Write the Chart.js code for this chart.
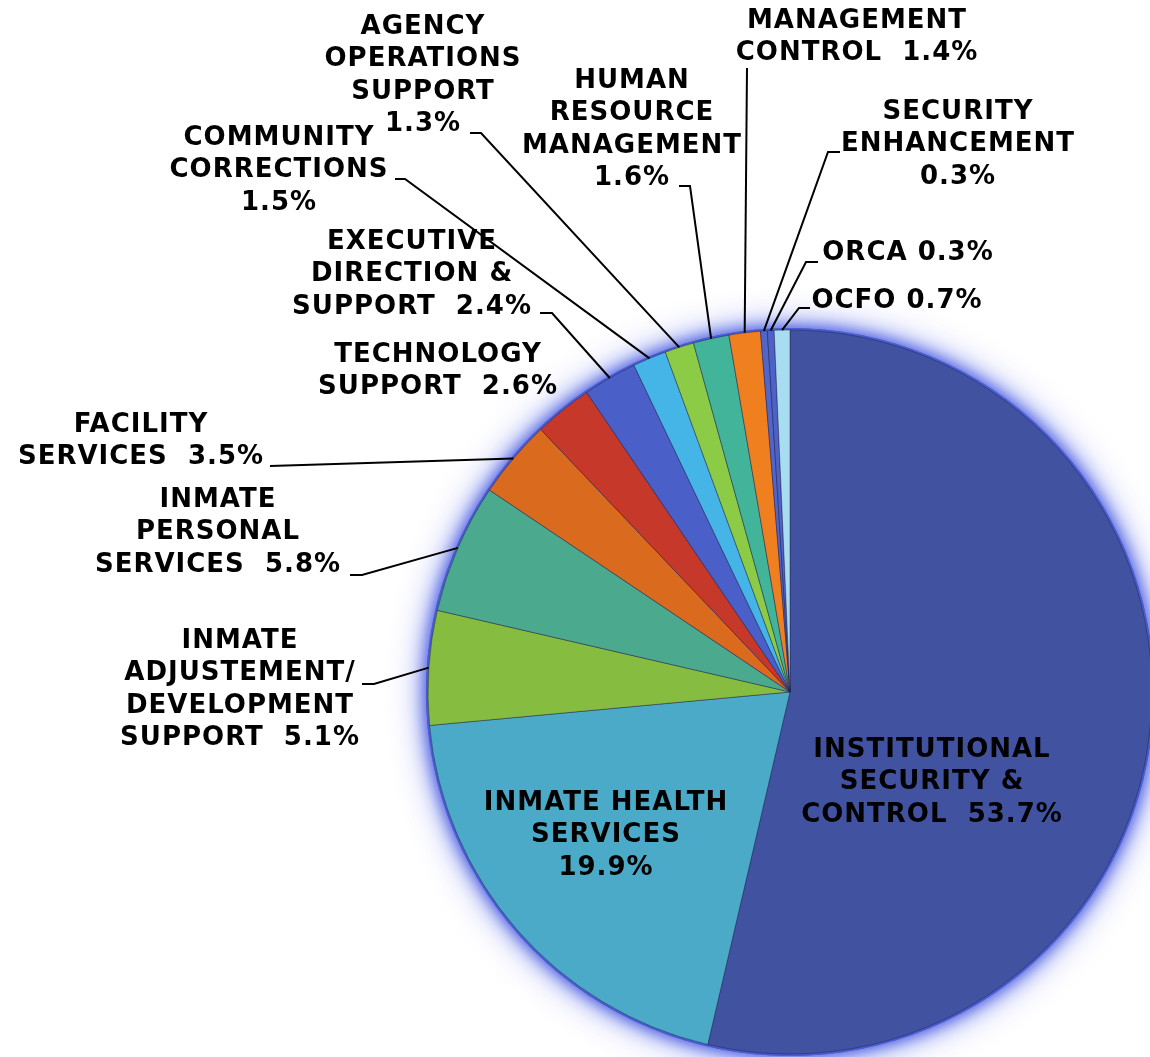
<!DOCTYPE html>
<html>
<head>
<meta charset="utf-8">
<script src="https://cdn.jsdelivr.net/npm/chart.js@4"></script>
<style>
  body { margin: 0; background: #fff; overflow: hidden; }
  #wrap { width: 1150px; height: 1057px; position: relative; }
</style>
</head>
<body>
<div id="wrap"><canvas id="budgetChart"></canvas></div>
<script>
// budget share by program, clockwise from 12 o'clock
const categories = [
  'Institutional Security & Control', 'Inmate Health Services', 'Inmate Adjustement/Development Support',
  'Inmate Personal Services', 'Facility Services', 'Technology Support', 'Executive Direction & Support',
  'Community Corrections', 'Agency Operations Support', 'Human Resource Management',
  'Management Control', 'Security Enhancement', 'ORCA', 'OCFO'
];
const values = [53.7, 19.9, 5.1, 5.8, 3.5, 2.6, 2.4, 1.5, 1.3, 1.6, 1.4, 0.3, 0.3, 0.7];

// label text as printed on the chart, {v} = percentage
const labelLines = [
  ['INSTITUTIONAL', 'SECURITY &', 'CONTROL  {v}'],
  ['INMATE HEALTH', 'SERVICES', '{v}'],
  ['INMATE', 'ADJUSTEMENT/', 'DEVELOPMENT', 'SUPPORT  {v}'],
  ['INMATE', 'PERSONAL', 'SERVICES  {v}'],
  ['FACILITY', 'SERVICES  {v}'],
  ['TECHNOLOGY', 'SUPPORT  {v}'],
  ['EXECUTIVE', 'DIRECTION &', 'SUPPORT  {v}'],
  ['COMMUNITY', 'CORRECTIONS', '{v}'],
  ['AGENCY', 'OPERATIONS', 'SUPPORT', '{v}'],
  ['HUMAN', 'RESOURCE', 'MANAGEMENT', '{v}'],
  ['MANAGEMENT', 'CONTROL  {v}'],
  ['SECURITY', 'ENHANCEMENT', '{v}'],
  ['ORCA {v}'],
  ['OCFO {v}']
];

const sliceColors = [
  '#4152a1', '#4baac8', '#86bc40', '#4baa8e', '#d96a1e', '#c6382a', '#4a5fc8',
  '#45b4e6', '#8ccb45', '#42b49a', '#f07f20', '#5066c8', '#4e62c6', '#a8dcf0'
];

// where each label sits (center x, first line y) and its leader line
const labelPos = [
  { x: 932, y: 750 },
  { x: 606, y: 803 },
  { x: 240, y: 641, hook: [[362, 684], [374, 684]] },
  { x: 218, y: 500, hook: [[350, 575], [362, 575]] },
  { x: 141, y: 425, hook: [[270, 466]] },
  { x: 438, y: 355 },
  { x: 412, y: 242, hook: [[540, 313], [552, 313]] },
  { x: 279, y: 138, hook: [[395, 179], [405, 179]] },
  { x: 423, y: 27, hook: [[470, 133], [481, 133]] },
  { x: 632, y: 81, hook: [[679, 186], [690, 186]] },
  { x: 857, y: 21, hook: [[747, 68]] },
  { x: 958, y: 112, hook: [[840, 152], [828, 152]] },
  { x: 908, y: 253, hook: [[818, 262], [806, 262]] },
  { x: 897, y: 301, hook: [[810, 308], [799, 308]] }
];

const pieGlow = {
  id: 'pieGlow',
  beforeDatasetsDraw(chart) {
    const arc = chart.getDatasetMeta(0).data[0];
    if (!arc) return;
    const { x, y, outerRadius } = arc.getProps(['x', 'y', 'outerRadius'], true);
    const ctx = chart.ctx;
    ctx.save();
    ctx.fillStyle = '#4a5ccf';
    [[34, 'rgba(80,100,230,0.85)'], [16, 'rgba(60,80,220,1)']].forEach(([blur, col]) => {
      ctx.shadowColor = col;
      ctx.shadowBlur = blur;
      ctx.beginPath();
      ctx.arc(x, y, outerRadius + 2, 0, Math.PI * 2);
      ctx.fill();
    });
    ctx.restore();
  }
};

const pieLabels = {
  id: 'pieLabels',
  afterDatasetsDraw(chart) {
    const ctx = chart.ctx;
    const arcs = chart.getDatasetMeta(0).data;
    ctx.save();
    ctx.font = 'bold 26px "DejaVu Sans", Verdana, sans-serif';
    ctx.letterSpacing = '1px';
    ctx.textAlign = 'center';
    ctx.textBaseline = 'middle';
    ctx.fillStyle = '#000';
    ctx.strokeStyle = '#000';
    arcs.forEach((arc, i) => {
      const pos = labelPos[i];
      const pct = values[i].toFixed(1) + '%';
      labelLines[i].forEach((line, k) => {
        ctx.fillText(line.replace('{v}', pct), pos.x, pos.y + k * 32.5);
      });
      if (pos.hook) {
        const p = arc.getProps(['x', 'y', 'startAngle', 'endAngle', 'outerRadius'], true);
        const mid = (p.startAngle + p.endAngle) / 2;
        ctx.lineWidth = 2;
        ctx.beginPath();
        ctx.moveTo(pos.hook[0][0], pos.hook[0][1]);
        for (let j = 1; j < pos.hook.length; j++) ctx.lineTo(pos.hook[j][0], pos.hook[j][1]);
        ctx.lineTo(p.x + Math.cos(mid) * p.outerRadius, p.y + Math.sin(mid) * p.outerRadius);
        ctx.stroke();
      }
    });
    ctx.restore();
  }
};

new Chart(document.getElementById('budgetChart'), {
  type: 'pie',
  data: {
    labels: categories,
    datasets: [{
      data: values,
      backgroundColor: sliceColors,
      borderColor: 'rgba(30,30,70,0.45)',
      borderWidth: 1,
      clip: false
    }]
  },
  options: {
    responsive: true,
    maintainAspectRatio: false,
    animation: false,
    radius: 362,
    layout: { padding: { left: 430, top: 327, right: 0, bottom: 0 } },
    plugins: {
      legend: { display: false },
      tooltip: { enabled: false }
    }
  },
  plugins: [pieGlow, pieLabels]
});
</script>
</body>
</html>
